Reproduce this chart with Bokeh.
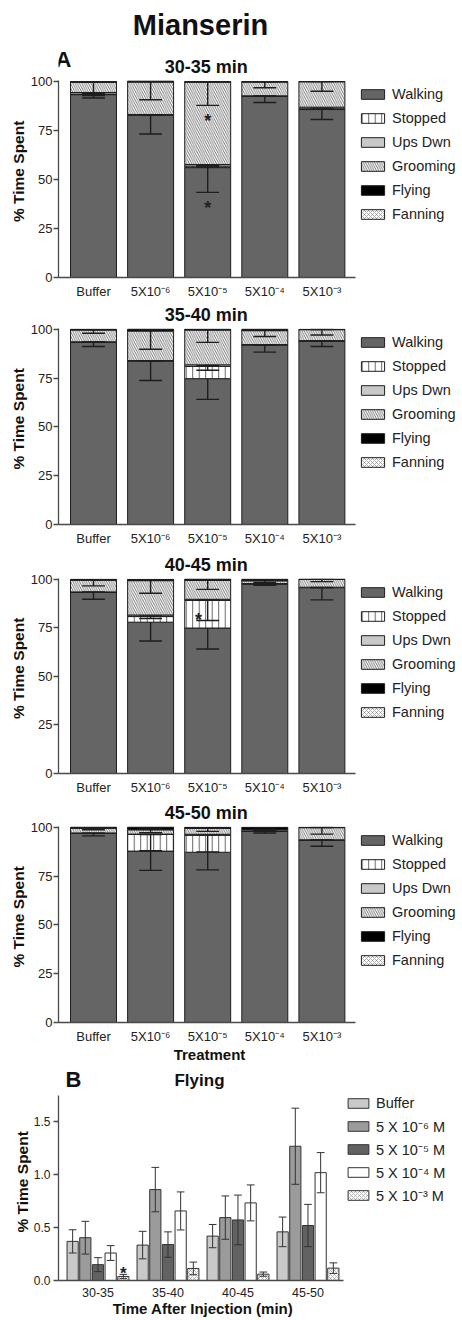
import numpy as np
from bokeh.plotting import figure
from bokeh.layouts import column
from bokeh.models import (ColumnDataSource, Label, Legend, LegendItem, Title,
                          FixedTicker, PrintfTickFormatter, Range1d)
from bokeh.embed import file_html
from bokeh.resources import INLINE
from bokeh.core.properties import value

FONT = "Liberation Sans"
INK = "#1e1e1e"
AXIS = "#4a4a4a"
W = 462
LB = 58          # left border shared by every plot in the column
K = 0.37         # label baseline correction (fraction of font size)

# ---------------------------------------------------------------- data
treatments = ["Buffer", "5X10⁻⁶", "5X10⁻⁵", "5X10⁻⁴", "5X10⁻³"]
behaviors = ["Walking", "Stopped", "Ups Dwn", "Grooming", "Flying", "Fanning"]
period_titles = ["30-35 min", "35-40 min", "40-45 min", "45-50 min"]
periods = ["30-35", "35-40", "40-45", "45-50"]
doses_b = ["Buffer", "5 X 10⁻⁶ M", "5 X 10⁻⁵ M", "5 X 10⁻⁴ M", "5 X 10⁻³ M"]

# Panel B: % time flying per period (one list per dose) and SEM
fly_buffer = [0.37, 0.335, 0.42, 0.46]
fly_5e6 = [0.405, 0.86, 0.595, 1.27]
fly_5e5 = [0.15, 0.34, 0.573, 0.52]
fly_5e4 = [0.26, 0.658, 0.734, 1.02]
fly_5e3 = [0.038, 0.114, 0.06, 0.117]
fly_buffer_sem = [0.11, 0.13, 0.11, 0.14]
fly_5e6_sem = [0.155, 0.21, 0.205, 0.36]
fly_5e5_sem = [0.066, 0.12, 0.235, 0.20]
fly_5e4_sem = [0.07, 0.18, 0.17, 0.19]
fly_5e3_sem = [0.02, 0.06, 0.02, 0.05]

# Panel A, 30-35 min (values per treatment)
walking_3035 = [93.2, 82.7, 56.0, 92.4, 85.6]
stopped_3035 = [0.3, 0.2, 0.8, 0.1, 0.4]
upsdwn_3035 = [0.8, 0.2, 0.8, 0.1, 0.8]
grooming_3035 = [5.2, 16.5, 42.0, 7.0, 13.0]
fanning_3035 = [0.0, 0.0, 0.1, 0.0, 0.0]
walking_3035_sem = [1.7, 9.6, 12.6, 3.2, 5.1]
stopped_3035_sem = [0.2, 0.1, 0.5, 0.1, 0.3]
upsdwn_3035_sem = [0.6, 0.1, 0.6, 0.1, 0.5]
grooming_3035_sem = [6.8, 9.0, 11.9, 2.9, 4.9]

# Panel A, 35-40 min
walking_3540 = [93.4, 83.8, 74.7, 92.0, 94.0]
stopped_3540 = [0.1, 0.1, 6.3, 0.1, 0.1]
upsdwn_3540 = [0.1, 0.1, 0.8, 0.1, 0.1]
grooming_3540 = [6.0, 15.1, 17.8, 7.1, 5.6]
fanning_3540 = [0.0, 0.0, 0.0, 0.0, 0.0]
walking_3540_sem = [2.2, 10.0, 10.6, 3.7, 2.8]
stopped_3540_sem = [0.1, 0.1, 2.0, 0.1, 0.1]
upsdwn_3540_sem = [0.1, 0.1, 0.5, 0.1, 0.1]
grooming_3540_sem = [1.6, 9.3, 6.3, 3.0, 2.7]

# Panel A, 40-45 min
walking_4045 = [93.3, 77.9, 74.9, 97.4, 95.7]
stopped_4045 = [0.1, 2.9, 14.2, 0.1, 0.1]
upsdwn_4045 = [0.1, 0.8, 0.6, 0.3, 0.1]
grooming_4045 = [6.0, 17.7, 9.7, 1.4, 4.0]
fanning_4045 = [0.0, 0.0, 0.0, 0.0, 0.0]
walking_4045_sem = [3.6, 9.7, 10.8, 0.5, 6.3]
stopped_4045_sem = [0.1, 1.0, 10.3, 0.1, 0.1]
upsdwn_4045_sem = [0.1, 0.5, 0.4, 0.2, 0.1]
grooming_4045_sem = [2.9, 6.5, 4.6, 0.8, 1.1]

# Panel A, 45-50 min
walking_4550 = [96.9, 87.8, 87.2, 98.0, 93.4]
stopped_4550 = [0.1, 8.5, 8.7, 0.1, 0.1]
upsdwn_4550 = [0.1, 0.2, 0.5, 0.1, 0.1]
grooming_4550 = [2.4, 2.2, 3.0, 0.7, 6.2]
fanning_4550 = [0.0, 0.0, 0.0, 0.0, 0.0]
walking_4550_sem = [1.3, 9.9, 9.0, 0.9, 3.1]
stopped_4550_sem = [0.1, 8.3, 8.5, 0.1, 0.1]
upsdwn_4550_sem = [0.1, 0.2, 0.3, 0.1, 0.1]
grooming_4550_sem = [0.8, 1.5, 1.5, 0.5, 3.3]

# significance stars (treatment index, % value)
stars_3035_x = [2, 2]
stars_3035_y = [81.9, 37.3]
stars_4045_x = [1.84]
stars_4045_y = [80.9]
stars_b_period = [0]
stars_b_dose = [4]
stars_b_y = [0.10]

# ---------------------------------------------------------------- style
keys = ["walking", "stopped", "upsdwn", "grooming", "flying", "fanning"]
fills = ["#656565", "white", "#c8c8c8", "white", "black", "white"]
hatches = [None, "vertical_line", None, "left_diagonal_line", None, "diagonal_cross"]
hcolors = ["black", "#555555", "black", "#6a6a6a", "black", "#7a7a7a"]
hscales = [6.0, 6.5, 6.0, 4.5, 6.0, 4.0]
hweights = [1.0, 0.9, 1.0, 0.9, 1.0, 0.6]

fly_by_dose = [fly_buffer, fly_5e6, fly_5e5, fly_5e4, fly_5e3]
fly_sem_by_dose = [fly_buffer_sem, fly_5e6_sem, fly_5e5_sem, fly_5e4_sem, fly_5e3_sem]

XA0 = -0.613    # left end of the category axis, panel A (57.1 px per category)
XB0 = -0.564    # panel B (70 px per period)


def overlap(px):
    return {"margin-top": f"-{px}px"} if px else {}


def style_axes(p, xbounds, tick_out, xstand, ystand, xsize, ysize, yl_offset, yl_standoff):
    p.grid.visible = False
    p.outline_line_color = None
    p.border_fill_color = None
    p.background_fill_color = None
    for ax in p.axis:
        ax.axis_line_color = AXIS
        ax.axis_line_width = 1.3
        ax.minor_tick_line_color = None
        ax.major_label_text_font = FONT
        ax.major_label_text_color = "#222222"
    p.xaxis.bounds = xbounds
    p.xaxis.major_tick_line_color = None
    p.xaxis.major_tick_out = 0
    p.xaxis.major_tick_in = 0
    p.xaxis.major_label_standoff = xstand
    p.xaxis.major_label_text_font_size = xsize
    p.yaxis.major_tick_out = tick_out
    p.yaxis.major_tick_in = 0
    p.yaxis.major_tick_line_color = AXIS
    p.yaxis.major_tick_line_width = 1.3
    p.yaxis.major_label_standoff = ystand
    p.yaxis.major_label_text_font_size = ysize
    p.add_layout(Title(text="% Time Spent", align="left", offset=yl_offset,
                       standoff=yl_standoff, text_font=FONT, text_font_size="15.5px",
                       text_font_style="bold", text_color="#111111"), "left")


def text_fig(h, items, ov=0):
    p = figure(width=W, height=h, x_range=Range1d(LB, W), y_range=Range1d(0, h),
               min_border=0, min_border_left=LB, min_border_right=0,
               min_border_top=0, min_border_bottom=0,
               x_axis_location=None, y_axis_location=None, styles=overlap(ov),
               output_backend="svg", toolbar_location=None, tools="")
    p.grid.visible = False
    p.outline_line_color = None
    p.border_fill_color = None
    p.background_fill_color = None
    for (x, base, text, size, align) in items:
        p.add_layout(Label(x=x, y=base + K * size, text=text, text_font=FONT,
                           text_font_size=f"{size}px", text_font_style="bold",
                           text_color="#111111", text_align=align,
                           text_baseline="alphabetic"))
    return p


def panel_a(means, sems, sx, sy, height, mbt, mbb, ov):
    fh = height - mbt - mbb
    span = (W - LB) / 57.1
    p = figure(width=W, height=height, x_range=Range1d(XA0, XA0 + span),
               y_range=Range1d(0, 100.4), min_border_left=LB, min_border_right=0,
               min_border_top=mbt, min_border_bottom=mbb, styles=overlap(ov),
               output_backend="svg", toolbar_location=None, tools="")
    xs = list(range(len(treatments)))
    data = {"x": xs}
    for k, m in zip(keys, means):
        data[k] = m
    src = ColumnDataSource(data)
    rs = p.vbar_stack(keys, x="x", width=0.805, source=src, fill_color=fills,
                      line_color=INK, line_width=1, hatch_pattern=hatches,
                      hatch_color=hcolors, hatch_scale=hscales, hatch_weight=hweights)
    tops = np.cumsum(np.array(means, dtype=float), axis=0)
    ex, ey0, ey1 = [], [], []
    for i in range(len(keys)):
        for j in xs:
            if sems[i][j] > 0:
                ex.append(j)
                ey0.append(tops[i][j])
                ey1.append(tops[i][j] - sems[i][j])
    ex = np.array(ex, dtype=float)
    p.segment(x0=ex, y0=ey0, x1=ex, y1=ey1, line_color=INK, line_width=1.4)
    p.segment(x0=ex - 0.2, y0=ey1, x1=ex + 0.2, y1=ey1, line_color=INK, line_width=1.4)
    if sx:
        p.text(x=sx, y=sy, text=["*"] * len(sx), text_font=value(FONT),
               text_font_size="18px", text_font_style="bold", text_color="#222222",
               text_align="center", text_baseline="middle", y_offset=4)

    p.xaxis.ticker = FixedTicker(ticks=xs)
    p.xaxis.major_label_overrides = {i: t for i, t in enumerate(treatments)}
    p.yaxis.ticker = FixedTicker(ticks=[0, 25, 50, 75, 100])
    style_axes(p, (XA0, 4.588), 5, 6, 1, "13px", "13px", fh / 2 - 43, 1)

    leg_h = 6 * 21 + 5 * 3
    leg = Legend(items=[LegendItem(label=b, renderers=[r]) for b, r in zip(behaviors, rs)],
                 location=(358 - LB, fh - 3 - leg_h), orientation="vertical",
                 glyph_width=29, glyph_height=12, label_height=21, label_standoff=5,
                 spacing=3, padding=0, margin=0, border_line_color=None,
                 background_fill_alpha=0, label_text_font=FONT,
                 label_text_font_size="14.5px", label_text_color="#222222")
    p.add_layout(leg)
    return p


def col(lst, j):
    return [v[j] for v in lst]


panels = [
    ([walking_3035, stopped_3035, upsdwn_3035, grooming_3035, col(fly_by_dose, 0), fanning_3035],
     [walking_3035_sem, stopped_3035_sem, upsdwn_3035_sem, grooming_3035_sem, col(fly_sem_by_dose, 0), [0] * 5],
     stars_3035_x, stars_3035_y),
    ([walking_3540, stopped_3540, upsdwn_3540, grooming_3540, col(fly_by_dose, 1), fanning_3540],
     [walking_3540_sem, stopped_3540_sem, upsdwn_3540_sem, grooming_3540_sem, col(fly_sem_by_dose, 1), [0] * 5],
     [], []),
    ([walking_4045, stopped_4045, upsdwn_4045, grooming_4045, col(fly_by_dose, 2), fanning_4045],
     [walking_4045_sem, stopped_4045_sem, upsdwn_4045_sem, grooming_4045_sem, col(fly_sem_by_dose, 2), [0] * 5],
     stars_4045_x, stars_4045_y),
    ([walking_4550, stopped_4550, upsdwn_4550, grooming_4550, col(fly_by_dose, 3), fanning_4550],
     [walking_4550_sem, stopped_4550_sem, upsdwn_4550_sem, grooming_4550_sem, col(fly_sem_by_dose, 3), [0] * 5],
     [], []),
]

# header: height, subtitle baseline above its bottom; panel: height, borders, overlap
headers = [77, 22, 25, 25]
sub_base = [4.3, 4.3, 4.0, 4.7]
geom = [(231, 8, 26, 5), (230, 8, 26, 5), (229, 8, 26, 5), (230, 8, 26, 6)]

figs = []
for pi in range(4):
    items = [(205.7, sub_base[pi], period_titles[pi], 18, "center")]
    if pi == 0:
        items += [(200, 42, "Mianserin", 29, "center"), (55, 10, "A", 22, "left")]
    figs.append(text_fig(headers[pi], items))
    m, s, sx, sy = panels[pi]
    h, mbt, mbb, ov = geom[pi]
    figs.append(panel_a(m, s, sx, sy, h, mbt, mbb, ov))

figs.append(text_fig(46, [(209, 32, "Treatment", 15, "center"),
                          (65, 5.3, "B", 22, "left"),
                          (199, 5.5, "Flying", 17, "center")], ov=2))

# ---------------------------------------------------------------- panel B
hB, mbtB, mbbB = 210, 3, 22
fhB = hB - mbtB - mbbB
spanB = (W - LB) / 70.0
pB = figure(width=W, height=hB, x_range=Range1d(XB0, XB0 + spanB), y_range=Range1d(0, 1.75),
            min_border_left=LB, min_border_right=0, min_border_top=mbtB,
            min_border_bottom=mbbB, output_backend="svg", toolbar_location=None, tools="")
b_fills = ["#c9c9c9", "#9b9b9b", "#626262", "white", "white"]
b_hatch = [None, None, None, None, "diagonal_cross"]
pitch = 0.181
rendB = []
for k in range(len(doses_b)):
    xk = np.arange(len(periods)) + (k - 2) * pitch
    vals = np.array(fly_by_dose[k])
    sem = np.array(fly_sem_by_dose[k])
    r = pB.vbar(x=xk, top=vals, width=0.16, fill_color=b_fills[k], line_color="#333333",
                line_width=1, hatch_pattern=b_hatch[k], hatch_color="#8a8a8a",
                hatch_scale=4.0, hatch_weight=0.6)
    rendB.append(r)
    pB.segment(x0=xk, y0=vals - sem, x1=xk, y1=vals + sem, line_color="#333333", line_width=1)
    pB.segment(x0=xk - 0.055, y0=vals + sem, x1=xk + 0.055, y1=vals + sem, line_color="#333333", line_width=1)
    pB.segment(x0=xk - 0.055, y0=vals - sem, x1=xk + 0.055, y1=vals - sem, line_color="#333333", line_width=1)

star_bx = [sp + (sd - 2) * pitch for sp, sd in zip(stars_b_period, stars_b_dose)]
pB.text(x=star_bx, y=stars_b_y, text=["*"] * len(star_bx), text_font=value(FONT),
        text_font_size="17px", text_font_style="bold", text_color="#222222",
        text_align="center", text_baseline="middle", y_offset=4)

pB.xaxis.ticker = FixedTicker(ticks=list(range(len(periods))))
pB.xaxis.major_label_overrides = {i: t for i, t in enumerate(periods)}
pB.yaxis.ticker = FixedTicker(ticks=[0, 0.5, 1.0, 1.5])
pB.yaxis.formatter = PrintfTickFormatter(format="%.1f")
style_axes(pB, (XB0, 3.507), 5, 7, 3, "12.5px", "12px", 48, 0)

legB_h = 5 * 20 + 4 * 3
legB = Legend(items=[LegendItem(label=d, renderers=[r]) for d, r in zip(doses_b, rendB)],
              location=(345 - LB, fhB + 2 - legB_h), orientation="vertical",
              glyph_width=26, glyph_height=12, label_height=20, label_standoff=5,
              spacing=3, padding=0, margin=0, border_line_color=None,
              background_fill_alpha=0, label_text_font=FONT,
              label_text_font_size="14.5px", label_text_color="#222222")
pB.add_layout(legB)
figs.append(pB)

figs.append(text_fig(20, [(202.5, 6, "Time After Injection (min)", 15, "center")], ov=2))

layout = column(*figs, spacing=0)
open("out.html", "w").write(file_html(layout, INLINE))
